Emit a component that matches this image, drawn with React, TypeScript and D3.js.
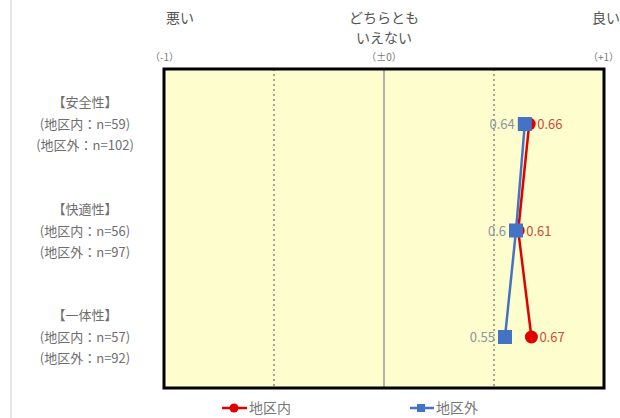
import React from "react";
import * as d3 from "d3";

const categories = ["安全性", "快適性", "一体性"];
const insideN = [59, 56, 57];
const outsideN = [102, 97, 92];
const insideValues = [0.66, 0.61, 0.67];
const outsideValues = [0.64, 0.6, 0.55];
const insideLabels = ["0.66", "0.61", "0.67"];
const outsideLabels = ["0.64", "0.6", "0.55"];
const seriesNames = ["地区内", "地区外"];
const xTicks = [-1, -0.5, 0, 0.5, 1];
const topLabels = [
  { v: -1, lines: ["悪い"], tick: "（-1）" },
  { v: 0, lines: ["どちらとも", "いえない"], tick: "（±0）" },
  { v: 1, lines: ["良い"], tick: "（+1）" },
];

const W = 620;
const H = 418;
const FONT = "'Noto Sans CJK JP', 'Noto Sans', sans-serif";
const RED = "#e00000";
const BLUE = "#4472c4";

export default function App() {
  const plot = { left: 164, right: 604, top: 69, bottom: 388 };
  const x = d3.scaleLinear().domain([-1, 1]).range([plot.left, plot.right]);
  const y = d3
    .scalePoint<string>()
    .domain(categories)
    .range([124, 337]);

  const line = d3
    .line<number>()
    .x((d) => x(d))
    .y((_, i) => y(categories[i]) as number);

  return (
    <svg
      width={W}
      height={H}
      style={{ position: "absolute", left: 0, top: 0, background: "#fff" }}
      fontFamily={FONT}
    >
      <line x1={11} x2={11} y1={0} y2={H} stroke="#ddd" strokeWidth={1.5} />
      {/* top labels */}
      {topLabels.map((t, i) => {
        const anchor = t.v === 0 ? "middle" : "start";
        const tx = t.v === -1 ? x(t.v) + 2 : t.v === 1 ? x(t.v) - 12 : x(t.v);
        return (
          <g key={i}>
            {t.lines.map((l, j) => (
              <text
                key={j}
                x={tx}
                y={23 + j * 20}
                fontSize={14}
                fill="#555"
                textAnchor={anchor}
              >
                {l}
              </text>
            ))}
            <text
              x={t.v === 1 ? W - 1 : t.v === -1 ? x(t.v) - 14 : x(t.v)}
              y={61}
              fontSize={10}
              fill="#777"
              textAnchor={t.v === 0 ? "middle" : t.v === 1 ? "end" : "start"}
            >
              {t.tick}
            </text>
          </g>
        );
      })}
      {/* plot area */}
      <rect
        x={plot.left}
        y={plot.top}
        width={plot.right - plot.left}
        height={plot.bottom - plot.top}
        fill="#fdfdcd"
      />
      {xTicks
        .filter((t) => t !== -1 && t !== 1)
        .map((t) => (
          <line
            key={t}
            x1={x(t)}
            x2={x(t)}
            y1={plot.top}
            y2={plot.bottom}
            stroke={t === 0 ? "#999" : "#555"}
            strokeWidth={t === 0 ? 1.5 : 1}
            strokeDasharray={t === 0 ? undefined : "2,3"}
          />
        ))}
      <rect
        x={plot.left}
        y={plot.top}
        width={plot.right - plot.left}
        height={plot.bottom - plot.top}
        fill="none"
        stroke="#000"
        strokeWidth={3}
      />
      {/* left category labels */}
      {categories.map((c, i) => {
        const cy = y(c) as number;
        return (
          <g key={c} fill="#6e6e6e" fontSize={13} textAnchor="middle">
            <text x={85} y={cy - 17}>{`【${c}】`}</text>
            <text x={85} y={cy + 5}>{`(地区内：n=${insideN[i]})`}</text>
            <text x={85} y={cy + 26}>{`(地区外：n=${outsideN[i]})`}</text>
          </g>
        );
      })}
      {/* red series */}
      <path d={line(insideValues) || ""} fill="none" stroke={RED} strokeWidth={2.5} />
      {/* blue series */}
      <path d={line(outsideValues) || ""} fill="none" stroke={BLUE} strokeWidth={2.5} />
      {insideValues.map((v, i) => (
        <circle key={i} cx={x(v)} cy={y(categories[i]) as number} r={6.5} fill={RED} />
      ))}
      {outsideValues.map((v, i) => (
        <rect
          key={i}
          x={x(v) - 7}
          y={(y(categories[i]) as number) - 7}
          width={14}
          height={14}
          fill={BLUE}
        />
      ))}
      {insideValues.map((v, i) => (
        <text
          key={i}
          x={x(v) + 8}
          y={(y(categories[i]) as number) + 5}
          fontSize={13}
          fill="#d44a36"
        >
          {insideLabels[i]}
        </text>
      ))}
      {outsideValues.map((v, i) => (
        <text
          key={i}
          x={x(v) - 10}
          y={(y(categories[i]) as number) + 5}
          fontSize={13}
          fill="#8a96a0"
          textAnchor="end"
        >
          {outsideLabels[i]}
        </text>
      ))}
      {/* legend */}
      <g>
        <line x1={222} x2={247} y1={408} y2={408} stroke={RED} strokeWidth={2.5} />
        <circle cx={234} cy={408} r={4.5} fill={RED} />
        <text x={249} y={413} fontSize={14} fill="#777">
          {seriesNames[0]}
        </text>
        <line x1={410} x2={434} y1={408} y2={408} stroke={BLUE} strokeWidth={2.5} />
        <rect x={417} y={404} width={8} height={8} fill={BLUE} />
        <text x={436} y={413} fontSize={14} fill="#777">
          {seriesNames[1]}
        </text>
      </g>
    </svg>
  );
}
